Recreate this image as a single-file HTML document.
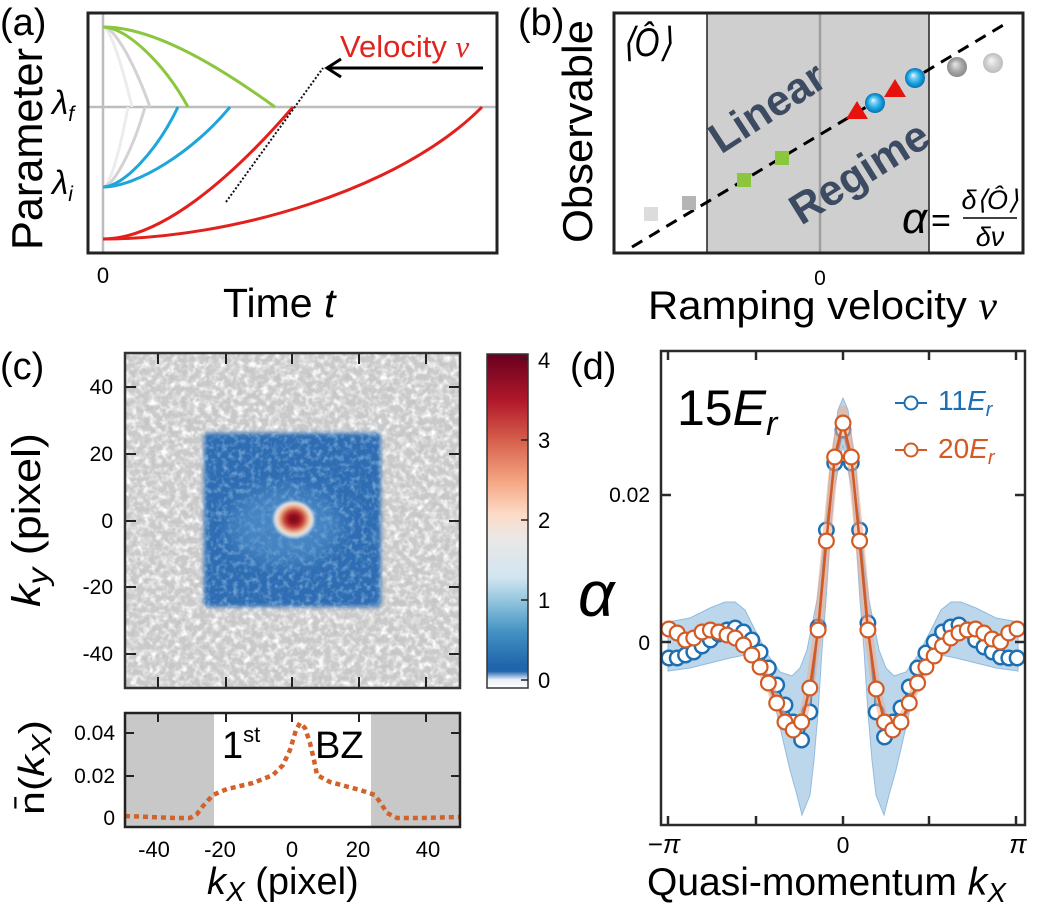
<!DOCTYPE html>
<html><head><meta charset="utf-8">
<style>html,body{margin:0;padding:0;background:#fff;}svg{display:block;}text{font-family:"Liberation Sans",Arial,sans-serif;}</style>
</head><body>
<svg width="1040" height="909" viewBox="0 0 1040 909" xmlns="http://www.w3.org/2000/svg">
<defs>
 <radialGradient id="sb" cx="50%" cy="50%" r="50%" fx="40%" fy="35%"><stop offset="0" stop-color="#ffffff"/><stop offset="0.22" stop-color="#8ad8f7"/><stop offset="0.65" stop-color="#1ba4e2"/><stop offset="1" stop-color="#0a72b0"/></radialGradient>
 <radialGradient id="sg1" cx="50%" cy="50%" r="50%" fx="40%" fy="35%"><stop offset="0" stop-color="#e8e8e8"/><stop offset="0.6" stop-color="#a8a8a8"/><stop offset="1" stop-color="#8a8a8a"/></radialGradient>
 <radialGradient id="sg2" cx="50%" cy="50%" r="50%" fx="40%" fy="35%"><stop offset="0" stop-color="#f6f6f6"/><stop offset="0.6" stop-color="#d0d0d0"/><stop offset="1" stop-color="#bdbdbd"/></radialGradient>
 <linearGradient id="cb" x1="0" y1="0" x2="0" y2="1">
  <stop offset="0" stop-color="#67001f"/>
  <stop offset="0.14" stop-color="#b2182b"/>
  <stop offset="0.26" stop-color="#d6604d"/>
  <stop offset="0.38" stop-color="#f4a582"/>
  <stop offset="0.48" stop-color="#fddbc7"/>
  <stop offset="0.55" stop-color="#ebe8e6"/>
  <stop offset="0.67" stop-color="#d1e5f0"/>
  <stop offset="0.74" stop-color="#92c5de"/>
  <stop offset="0.83" stop-color="#4393c3"/>
  <stop offset="0.93" stop-color="#2166ac"/>
  <stop offset="0.95" stop-color="#2166ac"/>
  <stop offset="0.975" stop-color="#e8eef8"/>
  <stop offset="1" stop-color="#ffffff"/>
 </linearGradient>
 <radialGradient id="spot" cx="52%" cy="45%" r="50%">
  <stop offset="0" stop-color="#70061a"/>
  <stop offset="0.25" stop-color="#9c0f20"/>
  <stop offset="0.45" stop-color="#c5453a"/>
  <stop offset="0.62" stop-color="#e8a07c"/>
  <stop offset="0.78" stop-color="#f3e4d6"/>
  <stop offset="0.9" stop-color="#d8e8f2" stop-opacity="0.8"/>
  <stop offset="1" stop-color="#a9cbe6" stop-opacity="0"/>
 </radialGradient>
 <filter id="nz" x="0" y="0" width="100%" height="100%"><feTurbulence type="fractalNoise" baseFrequency="0.16" numOctaves="2" seed="7"/><feColorMatrix type="matrix" values="0 0 0 0 1  0 0 0 0 1  0 0 0 0 1  2.6 0 0 0 -1.05"/></filter>
 <filter id="nz2" x="0" y="0" width="100%" height="100%"><feTurbulence type="fractalNoise" baseFrequency="0.16" numOctaves="2" seed="11"/><feColorMatrix type="matrix" values="0 0 0 0 0.55  0 0 0 0 0.55  0 0 0 0 0.55  0 2.4 0 0 -1.1"/></filter>
 <filter id="nzb" x="0" y="0" width="100%" height="100%"><feTurbulence type="fractalNoise" baseFrequency="0.18" numOctaves="2" seed="4"/><feColorMatrix type="matrix" values="0 0 0 0 0.45  0 0 0 0 0.68  0 0 0 0 0.9  2.2 0 0 0 -1.0"/></filter>
 <filter id="bl"><feGaussianBlur stdDeviation="2.2"/></filter>
 <filter id="bl8"><feGaussianBlur stdDeviation="9"/></filter>
 <filter id="bl1"><feGaussianBlur stdDeviation="1.2"/></filter>
 <clipPath id="hm"><rect x="125" y="353" width="335" height="335"/></clipPath>
 <clipPath id="sq"><rect x="204" y="433" width="177" height="174" rx="4"/></clipPath>
 <clipPath id="pd"><rect x="661" y="351" width="364" height="474"/></clipPath>
 <marker id="mb" markerWidth="20" markerHeight="20" refX="10" refY="10" markerUnits="userSpaceOnUse"><circle cx="10" cy="10" r="7.2" fill="#fff" stroke="#1d6fb3" stroke-width="2.5"/></marker>
 <marker id="mo" markerWidth="20" markerHeight="20" refX="10" refY="10" markerUnits="userSpaceOnUse"><circle cx="10" cy="10" r="7.4" fill="#fff" stroke="#d35a22" stroke-width="2.2"/></marker>
</defs>

<!-- ================= Panel (a) ================= -->
<text x="0" y="35" font-size="38">(a)</text>
<line x1="103" y1="14" x2="103" y2="252" stroke="#bdbdbd" stroke-width="2.5"/>
<line x1="89" y1="107" x2="496" y2="107" stroke="#bdbdbd" stroke-width="2.5"/>
<g fill="none" stroke-width="3">
 <path d="M103,27 C110,27 122,65 132,107" stroke="#ececec"/>
 <path d="M103,27 C115,27 135,65 150,107" stroke="#d3d3d3"/>
 <path d="M103,187 C110,187 120,150 128,107" stroke="#ececec"/>
 <path d="M103,187 C113,187 133,150 145,107" stroke="#d3d3d3"/>
 <path d="M103,27 C126,27 164,63 188,107" stroke="#8cc63f"/>
 <path d="M103,27 C150,27 210,60 275,107" stroke="#8cc63f"/>
 <path d="M103,187 C123,187 157,151 178,107" stroke="#1ea6dc"/>
 <path d="M103,187 C137,187 194,151 230,107" stroke="#1ea6dc"/>
 <path d="M103,239 C160,239 230,180 293,107" stroke="#e3201b"/>
 <path d="M103,239 C230,239 400,190 482,107" stroke="#e3201b"/>
</g>
<line x1="226" y1="202" x2="323" y2="68" stroke="#111" stroke-width="2" stroke-dasharray="2 2"/>
<line x1="483" y1="68" x2="328" y2="68" stroke="#000" stroke-width="3"/>
<polyline points="341,59 327,68 341,77" fill="none" stroke="#000" stroke-width="3"/>
<text x="340" y="57" font-size="31" fill="#e0241f">Velocity <tspan font-family="Liberation Serif" font-style="italic">ν</tspan></text>
<rect x="88" y="13" width="409" height="240" fill="none" stroke="#222" stroke-width="3"/>
<text x="52" y="114" font-family="Liberation Serif" font-style="italic" font-size="33">λ<tspan font-size="21" dy="7">f</tspan></text>
<text x="52" y="194" font-family="Liberation Serif" font-style="italic" font-size="33">λ<tspan font-size="21" dy="7">i</tspan></text>
<text x="103" y="283" font-size="22" text-anchor="middle">0</text>
<text x="223" y="317" font-size="41">Time <tspan font-style="italic">t</tspan></text>
<text transform="translate(42,250) rotate(-90)" x="0" y="0" font-size="44" textLength="202" lengthAdjust="spacingAndGlyphs">Parameter</text>

<!-- ================= Panel (b) ================= -->
<text x="518" y="35" font-size="38">(b)</text>
<rect x="707" y="13" width="222" height="240" fill="#cfcfcf"/>
<line x1="707" y1="13" x2="707" y2="253" stroke="#222" stroke-width="1.5"/>
<line x1="929" y1="13" x2="929" y2="253" stroke="#222" stroke-width="1.5"/>
<line x1="820" y1="14" x2="820" y2="252" stroke="#9e9e9e" stroke-width="2.5"/>
<text transform="translate(767,107) rotate(-33)" x="0" y="15" text-anchor="middle" font-size="43" font-weight="bold" fill="#3d4b62">Linear</text>
<text transform="translate(859,172) rotate(-32)" x="0" y="15" text-anchor="middle" font-size="43" font-weight="bold" fill="#3d4b62">Regime</text>
<line x1="632" y1="247" x2="1005" y2="24" stroke="#000" stroke-width="3" stroke-dasharray="12 8"/>
<rect x="644" y="207" width="14" height="14" fill="#dcdcdc"/>
<rect x="682" y="196" width="14" height="14" fill="#b5b5b5"/>
<rect x="737" y="173" width="14" height="14" fill="#8cc63f"/>
<rect x="775" y="151" width="14" height="14" fill="#8cc63f"/>
<polygon points="846,119 868,119 857,101" fill="#e8120c"/>
<polygon points="884,97 906,97 895,79" fill="#e8120c"/>
<circle cx="875" cy="103" r="10" fill="url(#sb)"/>
<circle cx="915" cy="78" r="10" fill="url(#sb)"/>
<circle cx="957" cy="67" r="10" fill="url(#sg1)"/>
<circle cx="993" cy="63" r="10" fill="url(#sg2)"/>
<text x="622" y="56" font-family="Liberation Serif" font-style="italic" font-size="40" textLength="50" lengthAdjust="spacingAndGlyphs">⟨Ô⟩</text>
<text x="902" y="233" font-family="Liberation Serif" font-style="italic" font-size="44">α</text>
<text x="931" y="232" font-family="Liberation Serif" font-size="34">=</text>
<text x="990" y="209" text-anchor="middle" font-family="Liberation Serif" font-style="italic" font-size="27">δ⟨Ô⟩</text>
<line x1="963" y1="218" x2="1017" y2="218" stroke="#000" stroke-width="1.5"/>
<text x="990" y="246" text-anchor="middle" font-family="Liberation Serif" font-style="italic" font-size="27">δν</text>
<rect x="614" y="13" width="409" height="240" fill="none" stroke="#222" stroke-width="3"/>
<text x="820" y="285" font-size="21" text-anchor="middle">0</text>
<text x="648" y="319" font-size="40" textLength="349" lengthAdjust="spacingAndGlyphs">Ramping velocity <tspan font-family="Liberation Serif" font-style="italic">ν</tspan></text>
<text transform="translate(592,243) rotate(-90)" x="0" y="0" font-size="42" textLength="223" lengthAdjust="spacingAndGlyphs">Observable</text>

<!-- ================= Panel (c) heatmap ================= -->
<text x="0" y="379" font-size="38">(c)</text>
<g clip-path="url(#hm)">
 <rect x="125" y="353" width="335" height="335" fill="#cbcbcb"/>
 <rect x="125" y="353" width="335" height="335" filter="url(#nz)"/>
 <rect x="125" y="353" width="335" height="335" filter="url(#nz2)"/>
 <rect x="204" y="433" width="177" height="174" rx="4" fill="#2f6db3" filter="url(#bl)"/>
 <g clip-path="url(#sq)">
  <rect x="200" y="430" width="185" height="180" filter="url(#nzb)" opacity="0.6"/>
 </g>
 <ellipse cx="285" cy="526" rx="55" ry="38" fill="#5d9bd2" opacity="0.5" filter="url(#bl8)"/>
 <ellipse cx="293" cy="521" rx="22" ry="20" fill="url(#spot)" filter="url(#bl1)"/>
</g>
<g stroke="#222" stroke-width="2">
 <line x1="158" y1="354" x2="158" y2="364"/><line x1="226" y1="354" x2="226" y2="364"/><line x1="292" y1="354" x2="292" y2="364"/><line x1="359" y1="354" x2="359" y2="364"/><line x1="426" y1="354" x2="426" y2="364"/>
 <line x1="158" y1="687" x2="158" y2="677"/><line x1="226" y1="687" x2="226" y2="677"/><line x1="292" y1="687" x2="292" y2="677"/><line x1="359" y1="687" x2="359" y2="677"/><line x1="426" y1="687" x2="426" y2="677"/>
 <line x1="126" y1="387" x2="136" y2="387"/><line x1="126" y1="454" x2="136" y2="454"/><line x1="126" y1="521" x2="136" y2="521"/><line x1="126" y1="587" x2="136" y2="587"/><line x1="126" y1="654" x2="136" y2="654"/>
 <line x1="459" y1="387" x2="449" y2="387"/><line x1="459" y1="454" x2="449" y2="454"/><line x1="459" y1="521" x2="449" y2="521"/><line x1="459" y1="587" x2="449" y2="587"/><line x1="459" y1="654" x2="449" y2="654"/>
</g>
<rect x="125" y="353" width="335" height="335" fill="none" stroke="#333" stroke-width="2.5"/>
<g font-size="21" text-anchor="end">
 <text x="113" y="394">40</text><text x="113" y="461">20</text><text x="113" y="528">0</text><text x="113" y="594">-20</text><text x="113" y="661">-40</text>
</g>
<text transform="translate(40,607) rotate(-90)" x="0" y="0" font-size="40" textLength="174" lengthAdjust="spacingAndGlyphs"><tspan font-style="italic">k</tspan><tspan font-style="italic" font-size="30" dy="8">y</tspan><tspan dy="-8"> (pixel)</tspan></text>

<!-- colorbar -->
<rect x="487" y="354" width="41" height="334" fill="url(#cb)" stroke="#333" stroke-width="1.5"/>
<g stroke="#222" stroke-width="1.5">
 <line x1="521" y1="359" x2="528" y2="359"/><line x1="521" y1="440" x2="528" y2="440"/><line x1="521" y1="520" x2="528" y2="520"/><line x1="521" y1="600" x2="528" y2="600"/><line x1="521" y1="680" x2="528" y2="680"/>
</g>
<g font-size="22">
 <text x="538" y="368">4</text><text x="538" y="448">3</text><text x="538" y="528">2</text><text x="538" y="608">1</text><text x="538" y="688">0</text>
</g>

<!-- ================= Panel (c) bottom ================= -->
<rect x="125" y="713" width="89" height="114" fill="#c8c8c8"/>
<rect x="371" y="713" width="89" height="114" fill="#c8c8c8"/>
<text x="222" y="758" font-size="38">1<tspan font-size="22" dy="-16">st</tspan></text>
<text x="315" y="758" font-size="38">BZ</text>
<polyline points="125,816 150,817 175,818 190,818 197,814 203,806 213,795 227,789 253,783 273,775 283,765 290,750 296,730 300,723 305,728 310,743 314,760 317,775 330,782 360,790 375,795 382,805 387,813 397,818 420,818 460,817" fill="none" stroke="#d2622a" stroke-width="4.5" stroke-dasharray="5 4"/>
<g stroke="#222" stroke-width="2">
 <line x1="158" y1="714" x2="158" y2="722"/><line x1="226" y1="714" x2="226" y2="722"/><line x1="292" y1="714" x2="292" y2="722"/><line x1="359" y1="714" x2="359" y2="722"/><line x1="426" y1="714" x2="426" y2="722"/>
 <line x1="126" y1="733" x2="134" y2="733"/><line x1="126" y1="776" x2="134" y2="776"/>
 <line x1="459" y1="733" x2="451" y2="733"/><line x1="459" y1="776" x2="451" y2="776"/>
</g>
<rect x="125" y="713" width="335" height="114" fill="none" stroke="#222" stroke-width="2.5"/>
<g font-size="21" text-anchor="end">
 <text x="115" y="740">0.04</text><text x="115" y="783">0.02</text><text x="115" y="825">0</text>
</g>
<g font-size="22" text-anchor="middle">
 <text x="154" y="857">-40</text><text x="220" y="857">-20</text><text x="292" y="857">0</text><text x="358" y="857">20</text><text x="428" y="857">40</text>
</g>
<text x="207" y="894" font-size="38"><tspan font-style="italic">k</tspan><tspan font-style="italic" font-size="28" dy="7">X</tspan><tspan dy="-7"> (pixel)</tspan></text>
<text transform="translate(44,815) rotate(-90)" x="0" y="0" font-size="36" textLength="95" lengthAdjust="spacingAndGlyphs">n̄(<tspan font-style="italic">k</tspan><tspan font-style="italic" font-size="26" dy="6">X</tspan><tspan dy="-6">)</tspan></text>

<!-- ================= Panel (d) ================= -->
<text x="570" y="379" font-size="38">(d)</text>
<g clip-path="url(#pd)">
 <polygon points="668,622 690,618 710,608 725,602 735,602 745,610 755,630 768,655 780,672 792,676 800,668 807,650 812,625 817,600 822,560 826,520 830,470 834,440 838,410 843,398 848,410 852,440 856,470 860,520 864,560 869,600 874,625 879,650 886,668 894,676 906,672 918,655 931,630 941,610 951,602 961,602 976,608 996,618 1018,622 1018,671 996,668 976,663 956,658 941,655 931,662 921,680 911,705 903,740 896,770 889,795 884,815 876,795 872,760 868,713 864,650 860,600 856,540 852,490 848,470 843,445 838,470 834,490 830,540 826,600 822,650 818,713 814,760 810,795 802,815 797,795 790,770 783,740 775,705 765,680 755,662 745,655 730,658 710,663 690,668 668,671" fill="#bcd7ec" stroke="#93bbdc" stroke-width="1"/>
 <polyline points="668.9,658 677.2,658 685.5,655 693.8,652 702.1,646 710.4,640 718.7,634 727,630 735.2,628 743.5,632 751.8,640 760.1,652 768.4,668 776.7,685 785,705 793.3,722 801.6,740 809.8,712 818.1,627 826.4,530 834.7,463 843,430 851.3,463 859.6,530 867.9,623 876.2,712 884.5,737 892.7,722 901,708 909.3,687 917.6,668 925.9,653 934.2,642 942.5,632 950.8,627 959,625 967.3,630 975.6,640 983.9,647 992.2,652 1000.5,657 1008.8,658 1017.1,658" fill="none" stroke="#1d6fb3" stroke-width="2" marker-start="url(#mb)" marker-mid="url(#mb)" marker-end="url(#mb)"/>
 <polyline points="668.9,629 677.2,633 685.5,640 693.8,638 702.1,632 710.4,630 718.7,632 727,635 735.2,638 743.5,645 751.8,655 760.1,667 768.4,683 776.7,703 785,722 793.3,730 801.6,722 809.8,688 818.1,630 826.4,541 834.7,457 843,410 851.3,457 859.6,541 867.9,630 876.2,689 884.5,722 892.7,730 901,722 909.3,703 917.6,683 925.9,667 934.2,656 942.5,646 950.8,638 959,633 967.3,630 975.6,629 983.9,633 992.2,639 1000.5,642 1008.8,633 1017.1,629" fill="none" stroke="#f2a888" stroke-opacity="0.55" stroke-width="9" stroke-linejoin="round"/>
 <polyline points="668.9,629 677.2,633 685.5,640 693.8,638 702.1,632 710.4,630 718.7,632 727,635 735.2,638 743.5,645 751.8,655 760.1,667 768.4,683 776.7,703 785,722 793.3,730 801.6,722 809.8,688 818.1,630 826.4,541 834.7,457 843,423 851.3,457 859.6,541 867.9,630 876.2,689 884.5,722 892.7,730 901,722 909.3,703 917.6,683 925.9,667 934.2,656 942.5,646 950.8,638 959,633 967.3,630 975.6,629 983.9,633 992.2,639 1000.5,642 1008.8,633 1017.1,629" fill="none" stroke="#d35a22" stroke-width="2.5" marker-start="url(#mo)" marker-mid="url(#mo)" marker-end="url(#mo)"/>
</g>
<g stroke="#2a2a2a" stroke-width="2.5">
 <line x1="668" y1="352" x2="668" y2="360"/><line x1="756" y1="352" x2="756" y2="360"/><line x1="843" y1="352" x2="843" y2="360"/><line x1="929" y1="352" x2="929" y2="360"/><line x1="1016" y1="352" x2="1016" y2="360"/>
 <line x1="668" y1="824" x2="668" y2="816"/><line x1="756" y1="824" x2="756" y2="816"/><line x1="843" y1="824" x2="843" y2="816"/><line x1="929" y1="824" x2="929" y2="816"/><line x1="1016" y1="824" x2="1016" y2="816"/>
 <line x1="662" y1="495" x2="671" y2="495"/><line x1="662" y1="642" x2="671" y2="642"/>
 <line x1="1024" y1="495" x2="1015" y2="495"/><line x1="1024" y1="642" x2="1015" y2="642"/>
</g>
<rect x="661" y="351" width="364" height="474" fill="none" stroke="#2a2a2a" stroke-width="2.5"/>
<text x="677" y="425" font-size="50">15<tspan font-style="italic">E</tspan><tspan font-style="italic" font-size="34" dy="10">r</tspan></text>
<line x1="895" y1="403" x2="927" y2="403" stroke="#1d6fb3" stroke-width="2"/>
<circle cx="911" cy="403" r="6.5" fill="#fff" stroke="#1d6fb3" stroke-width="2"/>
<text x="938" y="410" font-size="28" fill="#1d6fb3">11<tspan font-style="italic">E</tspan><tspan font-style="italic" font-size="20" dy="6">r</tspan></text>
<line x1="895" y1="450" x2="927" y2="450" stroke="#d35a22" stroke-width="2"/>
<circle cx="911" cy="450" r="6.5" fill="#fff" stroke="#d35a22" stroke-width="2"/>
<text x="938" y="458" font-size="28" fill="#d35a22">20<tspan font-style="italic">E</tspan><tspan font-style="italic" font-size="20" dy="6">r</tspan></text>
<text x="650" y="502" font-size="21" text-anchor="end">0.02</text>
<text x="650" y="650" font-size="21" text-anchor="end">0</text>
<text x="664" y="853" font-size="26" text-anchor="middle" font-family="Liberation Serif"><tspan>−</tspan><tspan font-style="italic">π</tspan></text>
<text x="843" y="853" font-size="23" text-anchor="middle">0</text>
<text x="1018" y="853" font-size="26" text-anchor="middle" font-family="Liberation Serif" font-style="italic">π</text>
<text x="578" y="616" font-size="64" font-style="italic">α</text>
<text x="647" y="895" font-size="39">Quasi-momentum <tspan font-style="italic">k</tspan><tspan font-style="italic" font-size="28" dy="7">X</tspan></text>
</svg>
</body></html>
